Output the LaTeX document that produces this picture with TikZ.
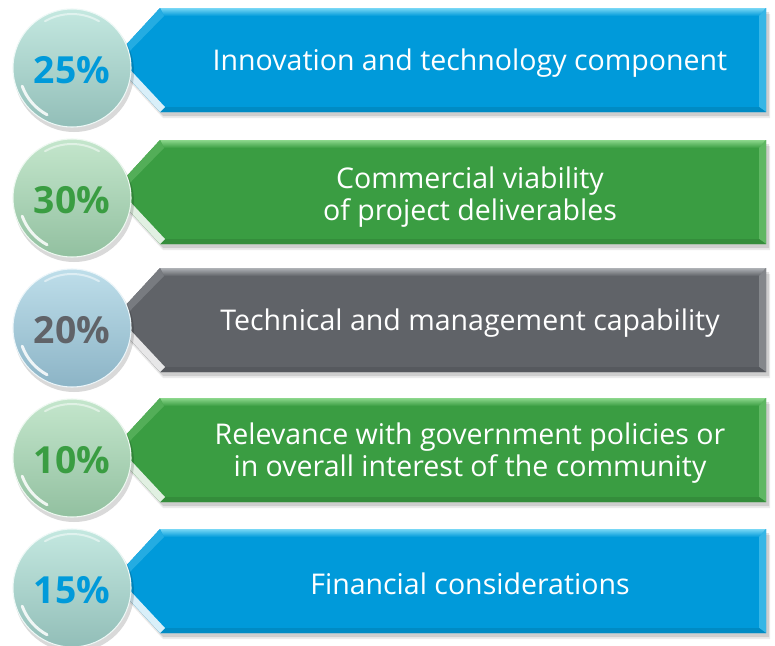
\documentclass[tikz,border=0pt]{standalone}
\usepackage{fontspec}
\setmainfont{Open Sans}
\usetikzlibrary{calc}
\definecolor{cblue}{RGB}{0,154,218}
\definecolor{cgreen}{RGB}{58,157,66}
\definecolor{cgray}{RGB}{96,99,104}
\definecolor{lblue}{RGB}{120,215,245}
\definecolor{lgreen}{RGB}{140,215,140}
\definecolor{lgray}{RGB}{175,178,182}
\definecolor{tealtop}{RGB}{196,232,224}
\definecolor{tealbot}{RGB}{146,190,184}
\definecolor{greentop}{RGB}{196,230,204}
\definecolor{greenbot}{RGB}{146,192,160}
\definecolor{bluetop}{RGB}{190,222,234}
\definecolor{bluebot}{RGB}{140,180,198}
\tikzset{
  bantext/.style={text=white, font=\fontsize{21.4}{24.5}\selectfont, align=center},
  pcttext/.style={font=\bfseries\fontsize{28}{30}\selectfont},
  circ/.style={circle, minimum size=118*0.75pt, inner sep=0pt},
}
% #1 top y, #2 main colour, #3 light colour
\newcommand{\bannershape}[3]{%
  \pgfmathsetmacro{\bt}{#1}%
  \pgfmathsetmacro{\bb}{#1+104}%
  \pgfmathsetmacro{\bm}{#1+52}%
  % shadow
  \fill[black, opacity=0.12] (163,\bt+4) -- (769,\bt+4) -- (769,\bb+4) -- (163,\bb+4) -- (115,\bm+4) -- cycle;
  \fill[black, opacity=0.08] (163,\bt+6) -- (770,\bt+6) -- (770,\bb+6) -- (163,\bb+6) -- (115,\bm+6) -- cycle;
  % body
  \fill[#2] (160,\bt) -- (766,\bt) -- (766,\bb) -- (160,\bb) -- (112,\bm) -- cycle;
  % top bevel
  \shade[top color=#3, bottom color=#2] (160,\bt) -- (766,\bt) -- (759,\bt+8) -- (164,\bt+8) -- cycle;
  % upper-left bevel
  \fill[#2!70!#3] (112,\bm) -- (160,\bt) -- (164,\bt+8) -- (121,\bm) -- cycle;
  % right bevel
  \fill[#2!55!#3] (766,\bt) -- (766,\bb) -- (759,\bb-5) -- (759,\bt+8) -- cycle;
  % bottom bevel
  \fill[#2!90!black] (160,\bb) -- (766,\bb) -- (759,\bb-5) -- (165,\bb-5) -- cycle;
  % lower-left highlight
  \fill[white, opacity=0.85] (112,\bm) -- (160,\bb) -- (165,\bb-5) -- (121,\bm) -- cycle;
}
\newcommand{\ballshadow}[2]{%
  \fill[black, opacity=0.15] (#1+2,#2+4) circle[radius=60*0.75pt];
}
\begin{document}
\begin{tikzpicture}[x=0.75pt, y=-0.75pt]
\useasboundingbox (0,0) rectangle (775,646);
\fill[white] (0,0) rectangle (775,646);

\bannershape{8}{cblue}{lblue}
\bannershape{140}{cgreen}{lgreen}
\bannershape{268}{cgray}{lgray}
\bannershape{398}{cgreen}{lgreen}
\bannershape{529}{cblue}{lblue}

\ballshadow{72}{68}
\ballshadow{72}{198}
\ballshadow{72}{328}
\ballshadow{72}{458}
\ballshadow{72}{588}

\node[circ, top color=tealtop, bottom color=tealbot, draw=white!70!tealtop, line width=0.8pt] (c1) at (72,68) {};
\node[circ, top color=greentop, bottom color=greenbot, draw=white!70!greentop, line width=0.8pt] (c2) at (72,198) {};
\node[circ, top color=bluetop, bottom color=bluebot, draw=white!70!bluetop, line width=0.8pt] (c3) at (72,328) {};
\node[circ, top color=greentop, bottom color=greenbot, draw=white!70!greentop, line width=0.8pt] (c4) at (72,458) {};
\node[circ, top color=tealtop, bottom color=tealbot, draw=white!70!tealtop, line width=0.8pt] (c5) at (72,588) {};

\foreach \c in {c1,c2,c3,c4,c5}{
  \draw[white, opacity=0.85, line width=2.2pt, line cap=round]
    ([shift={(118:53)}]\c.center) arc[start angle=118, end angle=160, radius=53];
  \draw[white, opacity=0.5, line width=1.5pt, line cap=round]
    ([shift={(-60:54)}]\c.center) arc[start angle=-60, end angle=-120, radius=54];
}

\node[pcttext, text=cblue] (p1) at ([yshift=-1.5pt]c1.center) {25\%};
\node[pcttext, text=cgreen] (p2) at ([yshift=-1.5pt]c2.center) {30\%};
\node[pcttext, text=cgray] (p3) at ([yshift=-1.5pt]c3.center) {20\%};
\node[pcttext, text=cgreen] (p4) at ([yshift=-1.5pt]c4.center) {10\%};
\node[pcttext, text=cblue] (p5) at ([yshift=-1.5pt]c5.center) {15\%};

\node[bantext] (t1) at (470,63) {Innovation and technology component};
\node[bantext] (t2) at (470,197) {Commercial viability\\of project deliverables};
\node[bantext] (t3) at (470,323) {Technical and management capability};
\node[bantext] (t4) at (470,453) {Relevance with government policies or\\in overall interest of the community};
\node[bantext] (t5) at (470,584) {Financial considerations};
\end{tikzpicture}
\end{document}
